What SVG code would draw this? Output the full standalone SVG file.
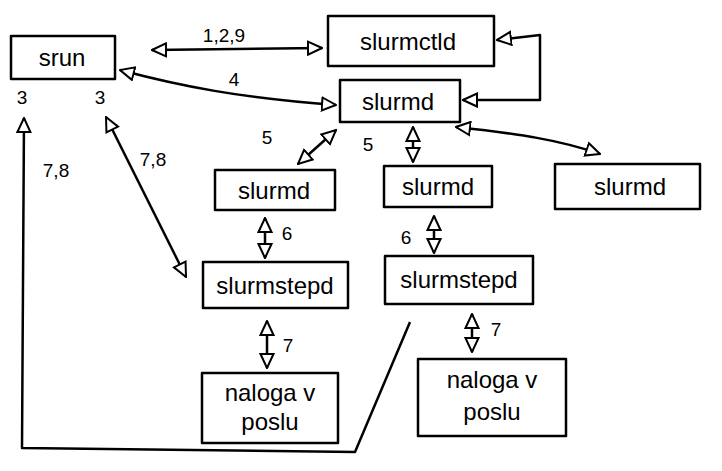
<svg xmlns="http://www.w3.org/2000/svg" width="722" height="471" viewBox="0 0 722 471">
<style>
.box{fill:none;stroke:#000;stroke-width:2.5;stroke-linejoin:round}
.lbl{font-family:"Liberation Sans",sans-serif;font-size:24px;fill:#000;text-anchor:middle}
.num{font-family:"Liberation Sans",sans-serif;font-size:19px;fill:#000;text-anchor:middle}
.con{fill:none;stroke:#000;stroke-width:2.5;stroke-linejoin:round}
</style>
<defs>
<marker id="tri" viewBox="0 0 16 16" refX="15" refY="8" markerWidth="16" markerHeight="16" markerUnits="userSpaceOnUse" orient="auto-start-reverse">
<path d="M1,1.5 L15,8 L1,14.5 Z" fill="#fff" stroke="#000" stroke-width="2"/>
</marker>
</defs>
<rect width="722" height="471" fill="#fff"/>
<g id="connectors">
<path class="con" d="M152,50 L322,48" marker-start="url(#tri)" marker-end="url(#tri)"/>
<path class="con" d="M120,70 C180,86 240,98 336,105" marker-start="url(#tri)" marker-end="url(#tri)"/>
<path class="con" d="M463,100 L540,100 L540,35 L497,40" marker-start="url(#tri)" marker-end="url(#tri)"/>
<path class="con" d="M298,164 L336,130" marker-start="url(#tri)" marker-end="url(#tri)"/>
<path class="con" d="M413,162 L413,127" marker-start="url(#tri)" marker-end="url(#tri)"/>
<path class="con" d="M456,127 C520,134 560,140 600,154" marker-start="url(#tri)" marker-end="url(#tri)"/>
<path class="con" d="M265,218 L265,258" marker-start="url(#tri)" marker-end="url(#tri)"/>
<path class="con" d="M434,216 L434,253" marker-start="url(#tri)" marker-end="url(#tri)"/>
<path class="con" d="M267,321 L267,368" marker-start="url(#tri)" marker-end="url(#tri)"/>
<path class="con" d="M472,314 L472,352" marker-start="url(#tri)" marker-end="url(#tri)"/>
<path class="con" d="M410,322 L355,452 L22,448 L24,118" marker-end="url(#tri)"/>
<path class="con" d="M186,277 L106,117" marker-start="url(#tri)" marker-end="url(#tri)"/>
<text class="num" x="224" y="42">1,2,9</text>
<text class="num" x="234" y="86">4</text>
<text class="num" x="22" y="104">3</text>
<text class="num" x="100" y="104">3</text>
<text class="num" x="56" y="177">7,8</text>
<text class="num" x="153" y="166">7,8</text>
<text class="num" x="267" y="144">5</text>
<text class="num" x="368" y="151">5</text>
<text class="num" x="287" y="240">6</text>
<text class="num" x="406" y="244">6</text>
<text class="num" x="288" y="352">7</text>
<text class="num" x="496" y="336">7</text>
</g>
<g id="srun"><rect class="box" x="11" y="36" width="104" height="43"/><text class="lbl" x="62" y="66">srun</text></g>
<g id="slurmctld"><rect class="box" x="328" y="16" width="166" height="50"/><text class="lbl" x="408" y="50">slurmctld</text></g>
<g id="slurmd-main"><rect class="box" x="340" y="80" width="120" height="42"/><text class="lbl" x="398" y="110">slurmd</text></g>
<g id="slurmd-1"><rect class="box" x="215" y="170" width="120" height="40"/><text class="lbl" x="274" y="199">slurmd</text></g>
<g id="slurmd-2"><rect class="box" x="384" y="166" width="108" height="41"/><text class="lbl" x="438" y="195">slurmd</text></g>
<g id="slurmd-3"><rect class="box" x="555" y="164" width="145" height="45"/><text class="lbl" x="630" y="195">slurmd</text></g>
<g id="slurmstepd-1"><rect class="box" x="203" y="262" width="145" height="46"/><text class="lbl" x="275" y="294">slurmstepd</text></g>
<g id="slurmstepd-2"><rect class="box" x="385" y="256" width="148" height="48"/><text class="lbl" x="459" y="288">slurmstepd</text></g>
<g id="naloga-1"><rect class="box" x="202" y="373" width="136" height="70"/><text class="lbl" x="270" y="401">naloga v</text><text class="lbl" x="270" y="430">poslu</text></g>
<g id="naloga-2"><rect class="box" x="418" y="359" width="148" height="77"/><text class="lbl" x="492" y="388">naloga v</text><text class="lbl" x="492" y="420">poslu</text></g>
</svg>
